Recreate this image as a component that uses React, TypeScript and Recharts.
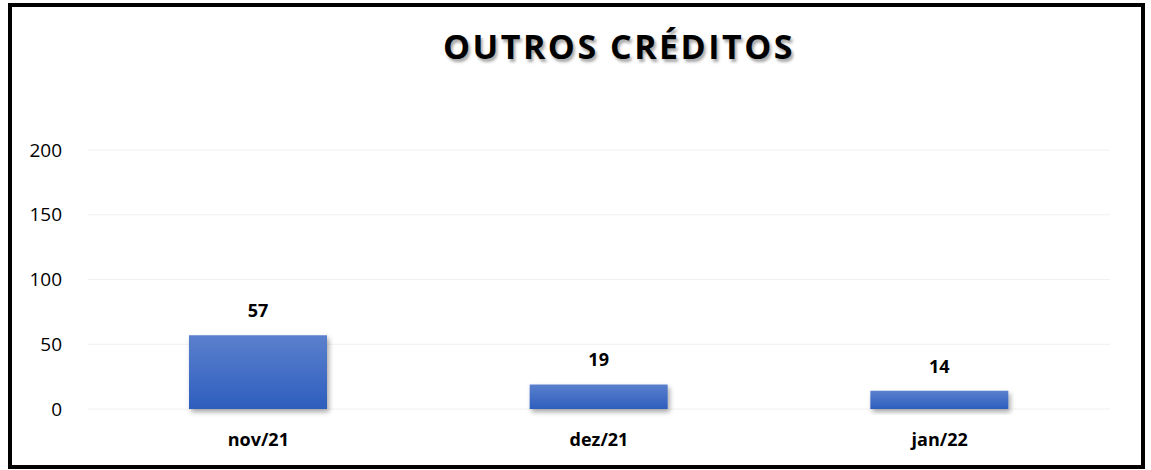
import { BarChart, Bar, XAxis, YAxis, CartesianGrid, LabelList } from "recharts";

const months = ["nov/21", "dez/21", "jan/22"];
const creditos = [57, 19, 14];
const yTicks = [0, 50, 100, 150, 200];

const data = months.map((m, i) => ({ mes: m, valor: creditos[i] }));

const font = "'Open Sans', sans-serif";

const App = () => {
  return (
    <div
      style={{
        position: "absolute",
        top: 3,
        left: 8,
        width: 1137,
        height: 466,
        border: "4px solid #000",
        boxSizing: "border-box",
        background: "#fff",
        fontFamily: font,
      }}
    >
      <div
        style={{
          position: "absolute",
          left: 0,
          width: 1214,
          top: 16,
          textAlign: "center",
          fontSize: 34,
          fontWeight: 700,
          letterSpacing: 2.5,
          color: "#000",
          textShadow: "2px 3px 3px rgba(0,0,0,0.35)",
        }}
      >
        OUTROS CRÉDITOS
      </div>
      <BarChart
        width={1129}
        height={458}
        data={data}
        margin={{ top: 143, right: 31, bottom: 0, left: 0 }}
        barSize={138}
      >
        <defs>
          <linearGradient id="barFill" x1="0" y1="0" x2="0" y2="1">
            <stop offset="0%" stopColor="#5b80cd" />
            <stop offset="100%" stopColor="#2d5ebe" />
          </linearGradient>
          <filter id="barShadow" x="-10%" y="-10%" width="130%" height="140%">
            <feDropShadow dx="2" dy="3" stdDeviation="2.5" floodColor="#000" floodOpacity="0.35" />
          </filter>
        </defs>
        <CartesianGrid vertical={false} stroke="#f0f0f0" />
        <XAxis
          dataKey="mes"
          axisLine={false}
          tickLine={false}
          tickMargin={18}
          height={56}
          tick={{ fill: "#000", fontSize: 18, fontWeight: 700, fontFamily: font }}
        />
        <YAxis
          domain={[0, 200]}
          ticks={yTicks}
          width={76}
          axisLine={false}
          tickLine={false}
          tickMargin={20}
          tick={{ fill: "#000", fontSize: 19, fontFamily: font }}
        />
        <Bar
          dataKey="valor"
          fill="url(#barFill)"
          filter="url(#barShadow)"
          isAnimationActive={false}
        >
          <LabelList
            dataKey="valor"
            position="top"
            offset={18}
            style={{ fill: "#000", fontSize: 18, fontWeight: 700, fontFamily: font }}
          />
        </Bar>
      </BarChart>
    </div>
  );
};

export default App;
